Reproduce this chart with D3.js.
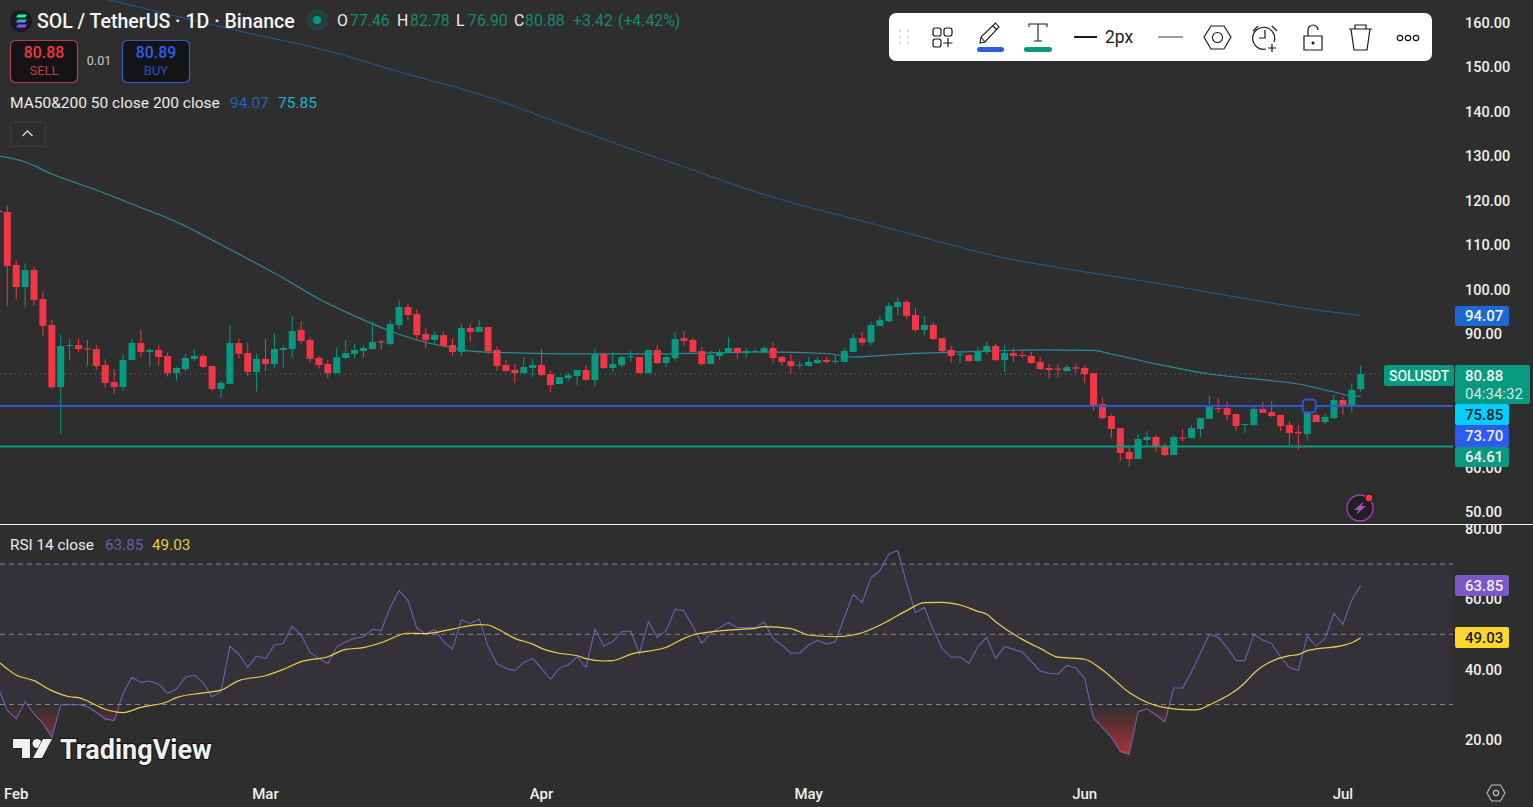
<!DOCTYPE html>
<html>
<head>
<meta charset="utf-8">
<title>SOL / TetherUS</title>
<script src="https://cdnjs.cloudflare.com/ajax/libs/d3/7.9.0/d3.min.js"></script>
<style>
html, body { margin: 0; padding: 0; background: #2e2e2e; overflow: hidden; }
svg { display: block; }
text { font-family: Roboto, "Noto Sans", sans-serif; }
.axis text { fill: #f0f0f0; font-size: 14.5px; font-weight: 500; }
.axis path, .axis line { display: none; }
</style>
</head>
<body>
<div id="chart"></div>
<script>
// daily candles, first one is cut off by the left edge
const opens = [117.6,117.3,105.4,100.45,104.25,97.75,91.9,78.0,87.2,87.4,
  86.65,86.5,82.9,79.1,78.0,84.05,87.85,85.85,86.3,84.95,
  81.1,82.0,84.3,84.95,82.7,77.5,78.7,87.85,85.6,81.35,
  84.3,83.15,86.3,86.5,90.8,88.55,84.5,83.15,81.1,84.5,
  85.4,86.05,86.5,88.2,87.65,91.9,95.95,94.4,89.9,88.55,
  89.65,87.4,85.85,91.25,90.35,91.45,86.3,82.9,81.8,81.1,
  82.25,82.9,80.9,78.65,80.0,80.45,81.8,79.55,85.4,82.25,
  82.9,84.65,84.7,81.1,86.3,83.35,84.5,88.95,88.55,86.05,
  83.15,84.95,85.75,86.75,85.6,85.85,85.7,86.75,84.7,83.8,
  82.75,82.7,83.35,84.05,83.65,83.6,85.85,88.95,88.0,91.7,
  92.75,95.95,97.1,94.15,90.8,91.9,88.95,86.3,85.25,85.15,
  83.8,85.85,87.2,84.05,85.6,85.15,84.95,83.6,82.25,82.1,
  81.55,82.4,82.25,81.1,74.15,71.45,68.75,63.35,61.8,66.05,
  66.75,64.7,62.7,66.6,66.5,68.55,70.8,73.25,73.25,71.9,
  69.45,69.45,73.05,72.35,71.7,69.45,67.85,67.4,71.7,70.1,
  71.0,75.05,73.95,77.46];
const closes = [117.2,105.2,100.45,104.25,97.55,91.7,77.9,87.2,87.4,86.5,
  86.45,82.7,78.9,78.0,84.05,87.85,85.85,86.3,84.7,81.1,
  82.25,84.5,84.95,82.5,77.5,78.9,87.85,85.4,81.35,84.3,
  83.15,86.5,86.75,90.55,88.3,84.3,82.9,81.1,84.7,85.6,
  86.3,86.75,88.1,87.95,92.1,95.95,94.15,89.65,88.55,89.65,
  87.2,85.85,91.25,90.35,91.45,86.05,82.7,81.55,81.1,82.45,
  82.9,80.65,78.4,80.2,80.6,81.8,79.55,85.4,82.25,83.15,
  84.7,84.85,81.1,86.3,83.35,84.7,88.75,88.3,85.85,83.15,
  85.15,85.85,86.75,85.7,86.05,86.05,86.75,84.5,83.6,82.7,
  83.0,83.6,84.05,83.6,83.9,86.05,88.95,87.95,91.9,93.0,
  96.2,97.1,93.95,90.8,91.9,88.75,86.05,84.95,85.4,83.8,
  86.05,87.2,84.05,85.6,84.95,84.95,83.35,82.0,81.8,81.85,
  82.45,82.1,80.9,73.9,71.0,68.55,63.15,61.8,66.3,66.75,
  64.5,62.7,66.75,66.35,68.75,71.0,73.5,73.05,71.7,69.2,
  69.65,73.05,72.15,71.45,69.2,67.65,67.55,73.2,70.1,71.25,
  75.05,73.7,77.3,80.88];
const highs = [117.7,118.7,106.5,105.8,104.9,99.4,93.0,89.7,88.9,88.9,
  88.55,87.4,84.2,82.0,85.4,88.75,90.95,86.65,87.4,85.7,
  82.55,85.4,86.5,85.4,82.7,79.4,91.9,88.9,88.0,85.4,
  88.75,90.05,87.3,93.95,92.8,89.15,84.95,84.05,86.9,88.55,
  87.8,87.4,92.65,88.55,92.9,97.5,96.8,95.5,91.15,90.4,
  90.4,88.9,92.1,92.05,93.15,91.5,87.05,84.05,83.15,84.7,
  84.4,86.5,81.55,80.2,81.2,81.8,82.9,86.65,85.7,85.85,
  84.95,86.05,84.7,86.3,87.4,85.4,90.35,90.55,89.0,87.05,
  86.15,86.5,89.2,86.75,86.75,86.5,87.2,87.95,84.95,85.4,
  83.8,84.7,84.65,84.65,85.4,86.75,89.9,90.35,92.6,93.95,
  96.85,98.2,97.5,95.7,93.95,92.6,88.95,87.2,85.85,85.4,
  86.95,88.1,87.65,87.4,86.75,86.3,85.85,84.7,83.15,83.15,
  83.0,83.15,82.9,81.1,75.5,71.9,68.75,64.25,67.55,68.1,
  67.2,65.4,67.2,68.55,69.35,71.0,75.95,75.5,74.6,71.9,
  69.65,73.95,74.6,74.85,71.7,70.35,69.45,74.3,72.05,72.05,
  76.4,75.75,78.85,82.78];
const lows = [117.1,96.2,97.7,95.8,96.4,89.3,77.6,67.4,84.05,85.7,
  82.7,81.8,77.75,76.4,77.15,84.05,84.65,82.55,82.7,80.3,
  79.4,81.6,83.8,82.25,77.1,75.5,78.7,84.3,80.3,76.95,
  81.5,82.3,82.25,84.5,87.65,83.45,82.1,79.9,81.1,84.2,
  84.25,84.55,86.5,86.3,87.25,91.0,93.0,88.4,86.75,87.65,
  87.05,84.95,84.95,88.15,90.35,85.4,81.65,81.55,78.85,80.9,
  80.2,80.45,76.7,78.65,79.3,78.4,79.4,78.2,82.0,81.2,
  82.45,83.6,81.1,81.1,83.15,82.4,83.8,87.2,85.85,82.7,
  83.15,84.05,85.75,84.25,84.65,85.7,85.7,83.3,82.7,81.1,
  82.0,82.6,83.2,83.35,83.15,83.6,85.85,87.4,87.4,91.7,
  92.5,94.15,93.25,90.35,89.65,88.55,85.85,83.35,83.35,83.6,
  83.6,85.4,83.8,81.35,83.6,84.5,83.15,81.8,79.8,80.2,
  81.55,81.1,78.85,72.6,70.8,66.5,61.35,60.0,61.8,64.5,
  63.35,62.4,62.7,65.85,66.5,66.75,70.8,72.15,70.55,68.1,
  67.65,69.2,72.15,71.25,68.1,64.5,63.8,65.85,70.1,69.65,
  70.8,71.7,72.15,76.9];

// moving averages, read at the candles where the line bends
const ma200Index = [1,12,27,37,45,55,63,71,78,84,90,97,105,112,120,130,139,148,153];
const ma200Values = [170.8,165.2,158.0,153.5,148.8,143.15,137.3,131.5,126.75,122.5,118.9,115.3,111.0,107.4,104.5,101.35,98.2,95.3,94.07];
const ma50Index = [0,3,6,11,15,21,24,27,32,36,40,44,47,51,53,59,67,74,79,86,93,96,99,102,108,117,123,125,130,136,141,146,150,152,153];
const ma50Values = [129.9,128.55,125.85,122.25,119.1,114.15,111.0,107.85,102.45,97.75,93.95,90.55,88.55,86.75,86.05,85.6,85.4,85.4,85.6,85.85,85.5,84.7,85.05,85.4,85.85,86.3,86.2,85.4,83.15,80.9,79.8,78.65,76.85,75.95,75.85];

const rsiValues = [34.6,28.4,25.9,30.8,27.3,24.6,20.65,29.85,29.95,29.95,
  29.4,27.7,25.9,25.4,33.2,37.75,36.3,36.7,35.75,33.2,
  34.4,37.75,38.4,36.2,32.2,33.65,46.5,44.4,40.6,43.8,
  43.15,46.95,47.4,52.35,49.8,44.85,43.15,41.55,46.5,47.8,
  48.85,49.3,51.4,51.1,57.7,62.45,59.6,51.7,50.1,51.4,
  47.9,45.8,54.05,53.1,54.35,46.5,41.55,40.3,39.65,42.0,
  43.15,40.3,37.2,40.3,41.25,43.6,40.6,51.5,46.65,47.9,
  50.75,50.95,44.6,53.6,49.05,51.05,57.2,56.65,52.2,47.45,
  50.3,51.9,53.3,51.9,51.9,51.9,53.5,48.85,46.95,44.6,
  44.7,46.95,48.3,47.2,47.9,54.8,61.4,59.0,66.1,68.1,
  72.9,73.85,64.5,56.15,57.7,51.2,45.8,43.45,43.6,41.7,
  46.5,49.15,43.15,46.5,45.7,44.95,42.2,39.55,38.9,38.7,
  41.15,40.4,37.45,26.05,23.4,20.65,16.6,15.8,27.95,28.7,
  27.0,25.1,34.7,34.7,39.35,44.6,50.0,49.15,46.2,42.5,
  42.5,50.0,48.4,47.35,43.6,40.5,39.7,49.5,46.65,48.85,
  55.95,52.85,59.8,63.85];
const rsiMaIndex = [0,2,4,6,8,9,10,12,14,16,19,20,23,25,27,30,32,34,37,39,41,43,46,48,51,54,55,56,58,60,61,63,65,66,68,69,71,75,77,78,82,85,86,89,91,94,97,100,102,104,106,108,110,111,112,115,117,119,122,124,127,131,134,135,136,140,141,145,146,147,151,152,153];
const rsiMaValues = [42.2,38.4,36.8,33.95,32.2,31.95,31.0,28.65,27.7,29.2,30.8,31.95,33.3,34.1,36.8,38.2,40.0,42.2,43.6,45.7,46.2,47.6,50.3,50.2,51.5,52.75,52.65,51.6,48.85,47.2,46.0,44.6,43.9,43.05,42.4,42.5,44.3,46.3,48.85,49.8,51.2,51.7,52.2,51.6,49.8,49.3,50.45,53.9,56.75,59.0,59.1,58.35,56.55,55.7,53.6,48.55,46.0,43.5,42.9,39.85,33.45,29.1,28.45,28.7,29.85,36.2,38.9,43.9,44.2,45.35,46.85,47.6,49.03];

// 70 and 80 sit under the price tags in the original, so they are left out
const priceTicks = [50,60,90,100,110,120,130,140,150,160];
const rsiTicks = [20,40,60,80];
const rsiLevels = [70,50,30];
const monthLabels = ['Feb','Mar','Apr','May','Jun','Jul'];
const monthIndex = [2,30,61,91,122,151];

const lastPrice = 80.88, lastMa200 = 94.07, lastMa50 = 75.85;
const drawnLevels = [73.70, 64.61];

const width = 1533, height = 807;
const paneRight = 1453;
const upColor = '#089981', downColor = '#f23645';

const x = d3.scaleLinear().domain([1, 153]).range([7.3, 1360.7]);
const y = d3.scaleLinear().domain([50, 160]).range([511.5, 22]);
const yRsi = d3.scaleLinear().domain([20, 80]).range([739.6, 529]);

const svg = d3.select('#chart').append('svg').attr('width', width).attr('height', height);
svg.append('rect').attr('width', width).attr('height', height).attr('fill', '#2e2e2e');

const defs = svg.append('defs');
defs.append('clipPath').attr('id', 'pane').append('rect').attr('width', paneRight).attr('height', 524);
defs.append('clipPath').attr('id', 'rsi-pane').append('rect').attr('y', 525).attr('width', width).attr('height', 282);

const lowGrad = defs.append('linearGradient').attr('id', 'rsi-low').attr('gradientUnits', 'userSpaceOnUse')
  .attr('x1', 0).attr('x2', 0).attr('y1', yRsi(30)).attr('y2', yRsi(15));
lowGrad.append('stop').attr('offset', 0).attr('stop-color', '#f23645').attr('stop-opacity', 0);
lowGrad.append('stop').attr('offset', 1).attr('stop-color', '#f23645').attr('stop-opacity', 0.65);

/* ---------- price pane ---------- */
const pricePane = svg.append('g').attr('clip-path', 'url(#pane)');

// last price dotted line
pricePane.append('line')
  .attr('x1', 0).attr('x2', 1384).attr('y1', y(lastPrice)).attr('y2', y(lastPrice))
  .attr('stroke', '#5f7f73').attr('stroke-dasharray', '1 4');

const ma = (idx, vals) => d3.line().x((d, i) => x(idx[i])).y(d => y(d)).curve(d3.curveMonotoneX)(vals);

pricePane.append('path').attr('d', ma(ma200Index, ma200Values))
  .attr('fill', 'none').attr('stroke', '#1f5a9c').attr('stroke-width', 1);
pricePane.append('path').attr('d', ma(ma50Index, ma50Values))
  .attr('fill', 'none').attr('stroke', '#2a8c9c').attr('stroke-width', 1.2);

const candles = pricePane.selectAll('g.candle').data(opens).enter().append('g').attr('class', 'candle')
  .attr('fill', (d, i) => closes[i] >= d ? upColor : downColor)
  .attr('stroke', (d, i) => closes[i] >= d ? upColor : downColor);
candles.append('line')
  .attr('x1', (d, i) => x(i)).attr('x2', (d, i) => x(i))
  .attr('y1', (d, i) => y(highs[i])).attr('y2', (d, i) => y(lows[i]))
  .attr('stroke-width', 1);
candles.append('rect')
  .attr('x', (d, i) => x(i) - 3.5).attr('width', 7)
  .attr('y', (d, i) => y(Math.max(d, closes[i])))
  .attr('height', (d, i) => Math.max(1, Math.abs(y(d) - y(closes[i]))))
  .attr('stroke', 'none');

// drawn horizontal levels
pricePane.append('line').attr('x1', 0).attr('x2', paneRight).attr('y1', y(drawnLevels[0])).attr('y2', y(drawnLevels[0]))
  .attr('stroke', '#2f55d4').attr('stroke-width', 2);
pricePane.append('line').attr('x1', 0).attr('x2', paneRight).attr('y1', y(drawnLevels[1])).attr('y2', y(drawnLevels[1]))
  .attr('stroke', upColor).attr('stroke-width', 2);
// selected line handle
pricePane.append('rect').attr('x', x(147) - 4.5).attr('y', y(drawnLevels[0]) - 6.5).attr('width', 13).attr('height', 13).attr('rx', 3.5)
  .attr('fill', '#2e2e2e').attr('stroke', '#2f55d4').attr('stroke-width', 2);

svg.append('g').attr('class', 'axis').attr('transform', 'translate(1452,0.8)')
  .call(d3.axisRight(y).tickValues(priceTicks).tickFormat(d3.format('.2f')).tickSize(0).tickPadding(13));

/* ---------- RSI pane ---------- */
const rsiPane = svg.append('g').attr('clip-path', 'url(#rsi-pane)');
rsiPane.append('rect').attr('x', 0).attr('width', paneRight)
  .attr('y', yRsi(70)).attr('height', yRsi(30) - yRsi(70)).attr('fill', '#7e57c2').attr('fill-opacity', 0.08);
rsiLevels.forEach(level => {
  rsiPane.append('line').attr('x1', 0).attr('x2', paneRight).attr('y1', yRsi(level)).attr('y2', yRsi(level))
    .attr('stroke', '#85838a').attr('stroke-dasharray', '5 4');
});
rsiPane.append('path')
  .attr('d', d3.area().x((d, i) => x(i)).y0(yRsi(30)).y1(d => yRsi(Math.min(d, 30)))(rsiValues))
  .attr('fill', 'url(#rsi-low)');
rsiPane.append('path')
  .attr('d', d3.line().x((d, i) => x(i)).y(d => yRsi(d))(rsiValues))
  .attr('fill', 'none').attr('stroke', '#6f5fb4').attr('stroke-width', 1.1);
rsiPane.append('path')
  .attr('d', d3.line().x((d, i) => x(rsiMaIndex[i])).y(d => yRsi(d)).curve(d3.curveMonotoneX)(rsiMaValues))
  .attr('fill', 'none').attr('stroke', '#ecd04a').attr('stroke-width', 1.2);

svg.append('g').attr('class', 'axis').attr('clip-path', 'url(#rsi-pane)').attr('transform', 'translate(1452,0)')
  .call(d3.axisRight(yRsi).tickValues(rsiTicks).tickFormat(d3.format('.2f')).tickSize(0).tickPadding(13));

// pane separator
svg.append('line').attr('x1', 0).attr('x2', width).attr('y1', 524.5).attr('y2', 524.5).attr('stroke', '#f4f4f4');

/* ---------- time axis ---------- */
svg.selectAll('text.month').data(monthLabels).enter().append('text').attr('class', 'month')
  .attr('x', (d, i) => x(monthIndex[i])).attr('y', 798.5)
  .attr('text-anchor', 'middle').attr('fill', '#f0f0f0').attr('font-size', 15).attr('font-weight', 500)
  .text(d => d);

/* ---------- axis tags ---------- */
function tag(label, top, bottom, fill, color, w = 54, tx = 1465) {
  svg.append('rect').attr('x', 1455).attr('y', top).attr('width', w).attr('height', bottom - top).attr('rx', 2).attr('fill', fill);
  svg.append('text').attr('x', tx).attr('y', (top + bottom) / 2 + 5).attr('fill', color)
    .attr('font-size', 15).attr('font-weight', 500).text(label);
}
tag(lastMa200.toFixed(2), 306, 326, '#1c69d3', '#f4f4f4');
tag(lastMa50.toFixed(2), 404, 425, '#00cfff', '#10222c');
tag(drawnLevels[0].toFixed(2), 425, 447, '#2f5cf0', '#f0f0f0');
tag(drawnLevels[1].toFixed(2), 447, 467, upColor, '#f0f0f0');
svg.append('rect').attr('x', 1455).attr('y', 365).attr('width', 75).attr('height', 39).attr('rx', 2).attr('fill', upColor);
svg.append('text').attr('x', 1465).attr('y', 381).attr('fill', '#f4f4f4').attr('font-size', 15).attr('font-weight', 500).text(lastPrice.toFixed(2));
svg.append('text').attr('x', 1465).attr('y', 399).attr('fill', '#c8e9e0').attr('font-size', 15).text('04:34:32');
svg.append('rect').attr('x', 1384).attr('y', 365).attr('width', 70).attr('height', 21).attr('rx', 2).attr('fill', upColor);
svg.append('text').attr('x', 1389).attr('y', 381).attr('fill', '#e8f6f2').attr('font-size', 14).attr('font-weight', 500).text('SOLUSDT');
tag(rsiValues[153].toFixed(2), 575, 596, '#7b58c4', '#f2ecfb');
tag(rsiMaValues[rsiMaValues.length - 1].toFixed(2), 627, 648, '#fbd72d', '#1c1c1c');

/* ---------- header legend ---------- */
const titleRow = svg.append('g');
const sol = titleRow.append('g').attr('transform', 'translate(21,21)');
sol.append('circle').attr('r', 11).attr('fill', '#171b26');
[['#9945ff', 5], ['#3ea6d6', 0], ['#19fb9b', -5]].forEach(([c, dy]) => {
  sol.append('path').attr('d', `M-5 ${dy + 1.5} L-3 ${dy - 1.5} H6 L4 ${dy + 1.5} Z`).attr('fill', c);
});
titleRow.append('text').attr('x', 37).attr('y', 28).attr('fill', '#f4f4f4').attr('font-size', 19.5).attr('font-weight', 500)
  .text('SOL / TetherUS · 1D · Binance');
titleRow.append('circle').attr('cx', 317).attr('cy', 20).attr('r', 11).attr('fill', upColor).attr('fill-opacity', 0.16);
titleRow.append('circle').attr('cx', 317).attr('cy', 20).attr('r', 4).attr('fill', upColor);

const ohlcLabels = ['O', '77.46', 'H', '82.78', 'L', '76.90', 'C', '80.88', '+3.42', '(+4.42%)'];
const ohlcLeft = [337, 350, 397, 410, 456, 468, 514, 525, 573, 618];
ohlcLabels.forEach((label, i) => {
  const isKey = i < 8 && i % 2 === 0;
  svg.append('text').attr('x', ohlcLeft[i]).attr('y', 26).attr('font-size', 15.8)
    .attr('fill', isKey ? '#ececec' : '#128a70').text(label);
});

function tradeBox(left, stroke, price, priceColor, word, wordColor) {
  svg.append('rect').attr('x', left + 0.5).attr('y', 40.5).attr('width', 67).attr('height', 42).attr('rx', 5)
    .attr('fill', '#141417').attr('stroke', stroke).attr('stroke-width', 1.2);
  svg.append('text').attr('x', left + 34).attr('y', 58).attr('text-anchor', 'middle').attr('fill', priceColor)
    .attr('font-size', 15.8).attr('font-weight', 500).text(price);
  svg.append('text').attr('x', left + 34).attr('y', 75).attr('text-anchor', 'middle').attr('fill', wordColor)
    .attr('font-size', 13).text(word);
}
tradeBox(10, '#b5404b', '80.88', '#f23645', 'SELL', '#c43a45');
tradeBox(122, '#3557c9', '80.89', '#2f5cf0', 'BUY', '#2f4fc0');
svg.append('text').attr('x', 99).attr('y', 65).attr('text-anchor', 'middle').attr('fill', '#c8c8c8').attr('font-size', 12.5).text('0.01');

svg.append('text').attr('x', 10).attr('y', 108).attr('fill', '#ececec').attr('font-size', 15.5).text('MA50&200 50 close 200 close');
svg.append('text').attr('x', 230).attr('y', 108).attr('fill', '#1f63b5').attr('font-size', 15.5).text(lastMa200.toFixed(2));
svg.append('text').attr('x', 278).attr('y', 108).attr('fill', '#22b4cc').attr('font-size', 15.5).text(lastMa50.toFixed(2));

svg.append('rect').attr('x', 10.5).attr('y', 122.5).attr('width', 35).attr('height', 24).attr('rx', 2)
  .attr('fill', 'none').attr('stroke', '#3d3d3d');
svg.append('path').attr('d', 'M22.5 136 L27.5 131 L32.5 136').attr('fill', 'none').attr('stroke', '#dcdcdc').attr('stroke-width', 1.3);

svg.append('text').attr('x', 10).attr('y', 550).attr('fill', '#ececec').attr('font-size', 15.3).text('RSI 14 close');
svg.append('text').attr('x', 105).attr('y', 550).attr('fill', '#6a5eaa').attr('font-size', 15.3).text(rsiValues[153].toFixed(2));
svg.append('text').attr('x', 152).attr('y', 550).attr('fill', '#e6cc48').attr('font-size', 15.3).text('49.03');

/* ---------- drawing toolbar ---------- */
const bar = svg.append('g');
bar.append('rect').attr('x', 889).attr('y', 13).attr('width', 543).attr('height', 48).attr('rx', 7).attr('fill', '#ffffff');
const ink = '#1a1a1a';
const icon = (d, sw = 1.3, c = ink) => bar.append('path').attr('d', d).attr('fill', 'none').attr('stroke', c).attr('stroke-width', sw);
[31, 37, 43].forEach(cy => [900, 908].forEach(cx => {
  bar.append('circle').attr('cx', cx).attr('cy', cy).attr('r', 1.3).attr('fill', '#d6d6d6');
}));
[[933, 28], [944, 28], [933, 39]].forEach(([bx, by]) => {
  bar.append('rect').attr('x', bx).attr('y', by).attr('width', 8).attr('height', 8).attr('rx', 2.2).attr('fill', 'none').attr('stroke', ink).attr('stroke-width', 1.2);
});
icon('M948 38 V47 M943.5 43 H952.5', 1.2);
icon('M981 37 L980 43 L985 42 L999 27 L995.5 23 Z M981 37 L985 42 M993 26 L997 30', 1.1);
bar.append('rect').attr('x', 977).attr('y', 47).attr('width', 27).attr('height', 5).attr('rx', 2.5).attr('fill', '#2f5cdc');
icon('M1029 27 V24 H1047 V27 M1038 24 V41 M1034 41 H1042', 1.1);
bar.append('rect').attr('x', 1024).attr('y', 47).attr('width', 28).attr('height', 5).attr('rx', 2.5).attr('fill', upColor);
icon('M1074 37 H1097', 2);
bar.append('text').attr('x', 1105).attr('y', 43).attr('fill', ink).attr('font-size', 17.5).text('2px');
icon('M1158 37 H1183', 1.4, '#777777');
icon('M1204 37 L1211 26 H1224 L1231 37 L1224 49 H1211 Z', 1.2);
bar.append('circle').attr('cx', 1217.5).attr('cy', 37.5).attr('r', 5).attr('fill', 'none').attr('stroke', ink).attr('stroke-width', 1.1);
icon('M1274 42 A11 11 0 1 0 1266 49 M1265 30 V38 H1259 M1253 31 L1258 26 M1277 31 L1272 26 M1272 44 V52 M1268 48 H1276', 1.2);
icon('M1304 36 H1322 V50 H1304 Z M1308 36 V30 A5 5 0 0 1 1318 30', 1.2);
bar.append('circle').attr('cx', 1313).attr('cy', 43).attr('r', 1.6).attr('fill', ink);
icon('M1349 29 H1372 M1355 29 V25 H1366 V29 M1351 29 L1354 50 H1367 L1370 29', 1.2);
[1400, 1408, 1416].forEach(cx => {
  bar.append('circle').attr('cx', cx).attr('cy', 38).attr('r', 2.7).attr('fill', 'none').attr('stroke', ink).attr('stroke-width', 1.2);
});

/* ---------- watermark and small icons ---------- */
const logo = svg.append('g').attr('fill', '#f0f0f0').attr('stroke', '#111111').attr('stroke-width', 1).attr('paint-order', 'stroke');
logo.append('path').attr('d', 'M13 739 H30 V758 H22 V748 H13 Z');
logo.append('circle').attr('cx', 37).attr('cy', 743.5).attr('r', 4.5);
logo.append('path').attr('d', 'M43 739 H52 L42 758 H33 Z');
logo.append('text').attr('x', 60).attr('y', 759).attr('font-size', 27).attr('font-weight', 700).attr('stroke-width', 2).text('TradingView');

const bolt = svg.append('g').attr('transform', 'translate(1360,508)');
bolt.append('circle').attr('r', 13).attr('fill', '#1f1f1f').attr('stroke', '#9b3fb0').attr('stroke-width', 1.5);
bolt.append('path').attr('d', 'M4 -7 L-6 2 H-1 L-4 7 L6 -2 H1 Z').attr('fill', '#a94fc4');
bolt.append('circle').attr('cx', 9).attr('cy', -10).attr('r', 4).attr('fill', '#f23645').attr('stroke', '#1f1f1f').attr('stroke-width', 1);

svg.append('path').attr('d', 'M1487 793 L1491.5 785 H1500.5 L1505 793 L1500.5 801 H1491.5 Z').attr('fill', 'none').attr('stroke', '#bfbfbf').attr('stroke-width', 1.1);
svg.append('circle').attr('cx', 1496).attr('cy', 793).attr('r', 2.6).attr('fill', 'none').attr('stroke', '#bfbfbf').attr('stroke-width', 1.1);
</script>
</body>
</html>
